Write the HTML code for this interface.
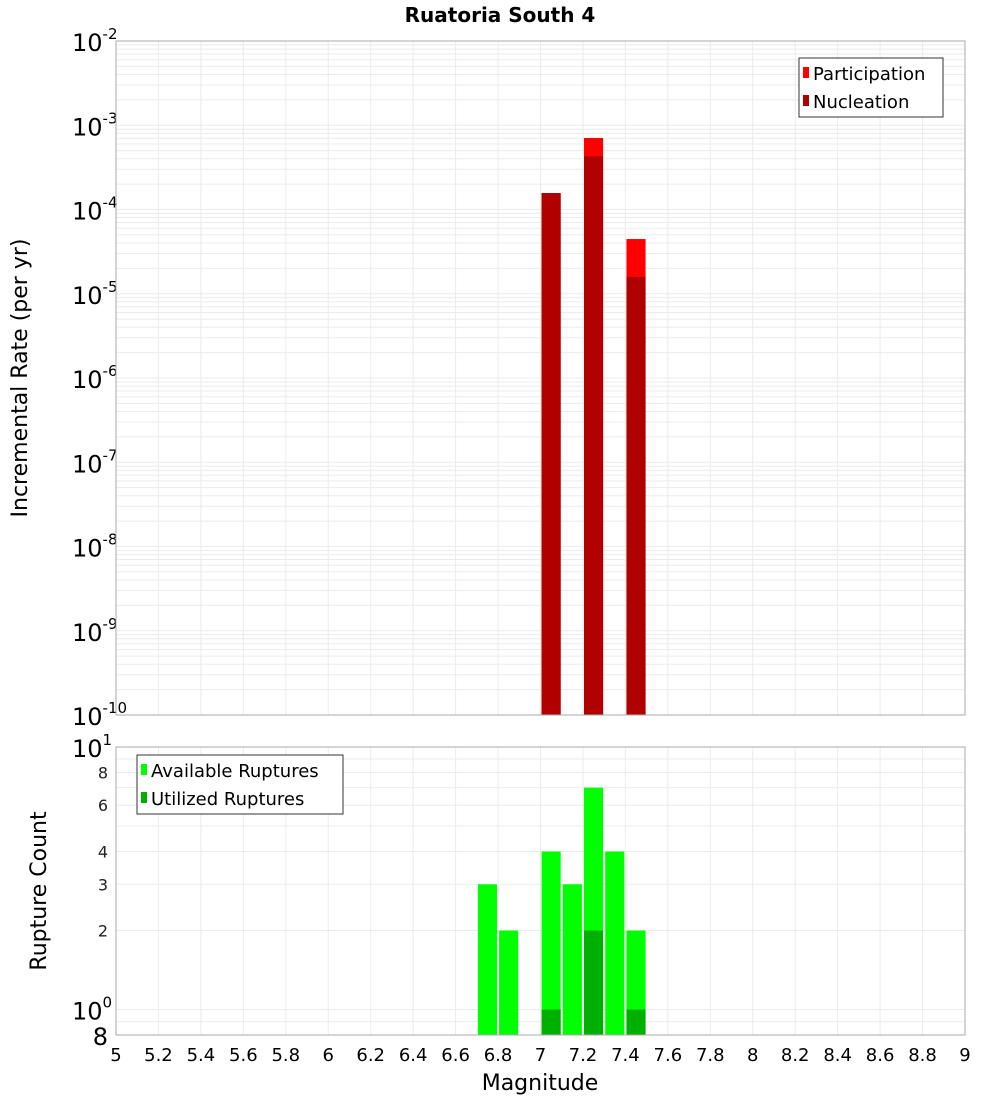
<!DOCTYPE html>
<html><head><meta charset="utf-8">
<style>
html,body{margin:0;padding:0;background:#fff;}
svg{display:block;font-family:"DejaVu Sans","Liberation Sans",sans-serif;}
</style></head>
<body>
<svg id="chart" width="1000" height="1100" viewBox="0 0 1000 1100" xmlns="http://www.w3.org/2000/svg">
<text x="500" y="22" text-anchor="middle" font-size="20" font-weight="bold">Ruatoria South 4</text>
<g id="topPanel"></g>
<g id="botPanel"></g>
<text transform="translate(27,378) rotate(-90)" text-anchor="middle" font-size="22">Incremental Rate (per yr)</text>
<text transform="translate(46,891) rotate(-90)" text-anchor="middle" font-size="22">Rupture Count</text>
<text x="540" y="1090" text-anchor="middle" font-size="22">Magnitude</text>
</svg>
<script>
// data
const rateMags = [7.05, 7.25, 7.45];
const participation = [1.57e-4, 7.06e-4, 4.46e-5];
const nucleation = [1.57e-4, 4.3e-4, 1.58e-5];
const countMags = [6.75, 6.85, 7.05, 7.15, 7.25, 7.35, 7.45];
const available = [3, 2, 4, 3, 7, 4, 2];
const utilizedMags = [7.05, 7.25, 7.45];
const utilized = [1, 2, 1];
const xTicks = [5,5.2,5.4,5.6,5.8,6,6.2,6.4,6.6,6.8,7,7.2,7.4,7.6,7.8,8,8.2,8.4,8.6,8.8,9];
const rateDecades = [-10,-9,-8,-7,-6,-5,-4,-3,-2];
const countTicks = [2,3,4,6,8];

const NS = "http://www.w3.org/2000/svg";
const X0 = 116, X1 = 965;
const xs = m => X0 + (m - 5) / 4 * (X1 - X0);
const T0 = 41, T1 = 715;
const yTop = v => T0 + (-2 - Math.log10(v)) / 8 * (T1 - T0);
const B0 = 747, B1 = 1035;
const bPer = (B1 - B0) / (1 - Math.log10(0.8));
const yBot = v => B0 + (1 - Math.log10(v)) * bPer;
const BW = 0.09 / 4 * (X1 - X0);

function el(tag, attrs, parent, text) {
  const e = document.createElementNS(NS, tag);
  for (const k in attrs) e.setAttribute(k, attrs[k]);
  if (text !== undefined) e.textContent = text;
  parent.appendChild(e);
  return e;
}
const topG = document.getElementById('topPanel');
const botG = document.getElementById('botPanel');

function grid(g, y0, y1) {
  xTicks.forEach(t => {
    const l = el('line', {x1: xs(t), x2: xs(t), y1: y0, y2: y1, stroke: '#ebebeb', 'stroke-width': 1}, g);
    
    
  });
}
// top panel
grid(topG, T0, T1);
for (let d = -10; d < -2; d++) {
  for (let k = 1; k <= 9; k++) {
    const y = yTop(k * Math.pow(10, d));
    const l = el('line', {x1: X0, x2: X1, y1: y, y2: y, stroke: '#ebebeb', 'stroke-width': 1}, topG);
    
    
  }
}
rateDecades.forEach(d => {
  const y = yTop(Math.pow(10, d));
  const t = el('text', {x: 72, y: y + 10, 'font-size': 24}, topG);
  
  
  el('tspan', {}, t, '10');
  el('tspan', {dy: -12, 'font-size': 15}, t, String(d));
});
rateMags.forEach((m, i) => {
  const r = el('rect', {x: xs(m) - BW / 2, y: yTop(participation[i]), width: BW, height: T1 - yTop(participation[i]), fill: '#ff0000'}, topG);
  
  
  const n = el('rect', {x: xs(m) - BW / 2, y: yTop(nucleation[i]), width: BW, height: T1 - yTop(nucleation[i]), fill: '#b00000'}, topG);
  
  
});
const tf = el('rect', {x: X0, y: T0, width: X1 - X0, height: T1 - T0, fill: 'none', stroke: '#aaa'}, topG);


const lg = el('g', {}, topG);


el('rect', {x: 799, y: 58, width: 144, height: 59, fill: '#fff', stroke: '#333'}, lg);
el('rect', {x: 803, y: 67, width: 6, height: 11, fill: '#ff0000'}, lg);
el('text', {x: 813, y: 80, 'font-size': 18}, lg, 'Participation');
el('rect', {x: 803, y: 95, width: 6, height: 11, fill: '#b00000'}, lg);
el('text', {x: 813, y: 108, 'font-size': 18}, lg, 'Nucleation');

// bottom panel
grid(botG, B0, B1);
[0.8, 0.9, 1, 2, 3, 4, 5, 6, 7, 8, 9].forEach(v => {
  const y = yBot(v);
  const l = el('line', {x1: X0, x2: X1, y1: y, y2: y, stroke: '#ebebeb', 'stroke-width': 1}, botG);
  
  
});
countTicks.forEach(v => {
  const t = el('text', {x: 108, y: yBot(v) + 6, 'font-size': 16, 'text-anchor': 'end', fill: '#222'}, botG, String(v));
  
  
});
[[1, '1'], [0, '0']].forEach(([p, s]) => {
  const t = el('text', {x: 72, y: yBot(Math.pow(10, p)) + 10, 'font-size': 24}, botG);
  
  
  el('tspan', {}, t, '10');
  el('tspan', {dy: -12, 'font-size': 15}, t, s);
});
const t8 = el('text', {x: 108, y: 1045, 'font-size': 24, 'text-anchor': 'end'}, botG, '8');


countMags.forEach((m, i) => {
  const r = el('rect', {x: xs(m) - BW / 2, y: yBot(available[i]), width: BW, height: B1 - yBot(available[i]), fill: '#00ff00'}, botG);
  
  
});
utilizedMags.forEach((m, i) => {
  const r = el('rect', {x: xs(m) - BW / 2, y: yBot(utilized[i]), width: BW, height: B1 - yBot(utilized[i]), fill: '#00b000'}, botG);
  
  
});
const bf = el('rect', {x: X0, y: B0, width: X1 - X0, height: B1 - B0, fill: 'none', stroke: '#aaa'}, botG);


xTicks.forEach(t => {
  const tx = el('text', {x: xs(t), y: 1061, 'font-size': 18, 'text-anchor': 'middle'}, botG, String(t));
  
  
});
const lg2 = el('g', {}, botG);


el('rect', {x: 137, y: 755, width: 206, height: 59, fill: '#fff', stroke: '#333'}, lg2);
el('rect', {x: 141, y: 764, width: 6, height: 11, fill: '#00ff00'}, lg2);
el('text', {x: 151, y: 777, 'font-size': 18}, lg2, 'Available Ruptures');
el('rect', {x: 141, y: 792, width: 6, height: 11, fill: '#00b000'}, lg2);
el('text', {x: 151, y: 805, 'font-size': 18}, lg2, 'Utilized Ruptures');
</script>
</body></html>
